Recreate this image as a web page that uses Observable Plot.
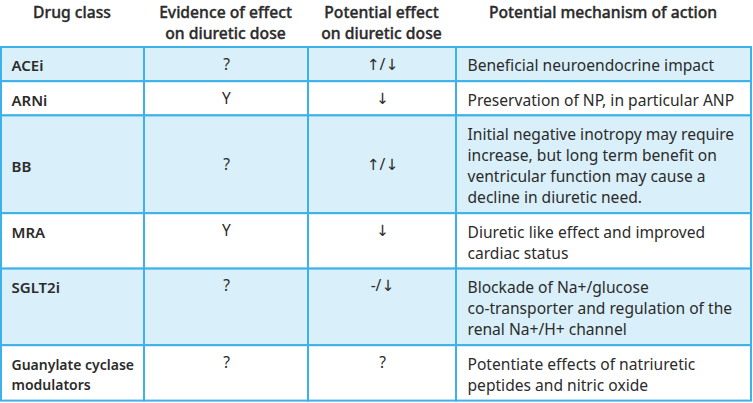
<!DOCTYPE html>
<html><head><meta charset="utf-8">
<script src="https://cdn.jsdelivr.net/npm/d3@7"></script>
<script src="https://cdn.jsdelivr.net/npm/@observablehq/plot@0.6"></script>
<style>
html,body{margin:0;padding:0;background:#fff;}
</style>
</head><body>
<div id="chart"></div>
<script>
// ---- data ----
const headers = ["Drug class", "Evidence of effect\non diuretic dose", "Potential effect\non diuretic dose", "Potential mechanism of action"];
const drugClass = ["ACEi", "ARNi", "BB", "MRA", "SGLT2i", "Guanylate cyclase\nmodulators"];
const evidence = ["?", "Y", "?", "Y", "?", "?"];
const potential = ["↑/↓", "↓", "↑/↓", "↓", "-/↓", "?"];
const mechanism = [
  "Beneficial neuroendocrine impact",
  "Preservation of NP, in particular ANP",
  "Initial negative inotropy may require\nincrease, but long term benefit on\nventricular function may cause a\ndecline in diuretic need.",
  "Diuretic like effect and improved\ncardiac status",
  "Blockade of Na+/glucose\nco-transporter and regulation of the\nrenal Na+/H+ channel",
  "Potentiate effects of natriuretic\npeptides and nitric oxide"
];
const shaded = [true, false, true, false, true, false];
const centeredRow = [false, false, true, false, false, false];

// ---- layout ----
const W = 753, H = 403;
const x0 = 1;
const colWidths = [143, 164, 148, 295];
const tableTop = 47;
const linePx = 21.2, rowPad = 13;
const colEdges = [x0];
colWidths.forEach(w => colEdges.push(colEdges[colEdges.length - 1] + w));
const nLines = mechanism.map(m => m.split("\n").length);
const rows = [];
let yy = tableTop;
drugClass.forEach((d, i) => {
  const h = rowPad + linePx * nLines[i];
  rows.push({i, top: yy, bottom: yy + h, mid: yy + h / 2, first: yy + rowPad / 2 + linePx / 2});
  yy += h;
});
const cells = [];
rows.forEach(r => colWidths.forEach((w, c) => cells.push({x1: colEdges[c], x2: colEdges[c + 1], y1: r.top, y2: r.bottom, shaded: shaded[r.i]})));

const nameY = r => (centeredRow[r.i] || drugClass[r.i].includes("\n")) ? r.mid : r.first;
const cellY = r => centeredRow[r.i] ? r.mid : r.first;

const nameData = rows.map(r => ({x: colEdges[0] + 10, y: nameY(r), text: drugClass[r.i], size: drugClass[r.i].includes("\n") ? 14 : 15}));
const centerData = rows.flatMap(r => [
  {x: (colEdges[1] + colEdges[2]) / 2, y: cellY(r), text: evidence[r.i]},
  {x: (colEdges[2] + colEdges[3]) / 2, y: cellY(r), text: potential[r.i]}
]);
const mechData = rows.map(r => ({x: colEdges[3] + 11, y: r.mid, text: mechanism[r.i]}));
const headData = headers.map((h, c) => ({x: (colEdges[c] + colEdges[c + 1]) / 2 - 1, y: 3, text: h}));

const ink = "#2b2b2b";
const chart = Plot.plot({
  width: W, height: H, margin: 0,
  x: {domain: [0, W], range: [0, W], axis: null},
  y: {domain: [0, H], range: [0, H], axis: null},
  style: {fontFamily: "'Noto Sans', 'DejaVu Sans', sans-serif", background: "#fff", color: ink},
  marks: [
    Plot.rect(cells, {x1: "x1", x2: "x2", y1: "y1", y2: "y2", fill: d => d.shaded ? "#d9eff9" : "#ffffff", stroke: "#3db2ea", strokeWidth: 2}),
    Plot.text(headData, {x: "x", y: "y", text: "text", textAnchor: "middle", lineAnchor: "top", fontSize: 15.7, fontWeight: 500, lineHeight: 1.34, fill: ink, stroke: ink, strokeWidth: 0.35}),
    Plot.text(nameData, {x: "x", y: "y", text: "text", textAnchor: "start", lineAnchor: "middle", fontSize: "size", fontWeight: 600, lineHeight: 1.43, fill: ink}),
    Plot.text(centerData, {x: "x", y: "y", text: "text", textAnchor: "middle", lineAnchor: "middle", fontSize: 15.5, fill: ink}),
    Plot.text(mechData, {x: "x", y: "y", text: "text", textAnchor: "start", lineAnchor: "middle", fontSize: 15.6, lineHeight: 1.36, fill: ink})
  ]
});
document.getElementById("chart").appendChild(chart);
</script>
</body></html>
